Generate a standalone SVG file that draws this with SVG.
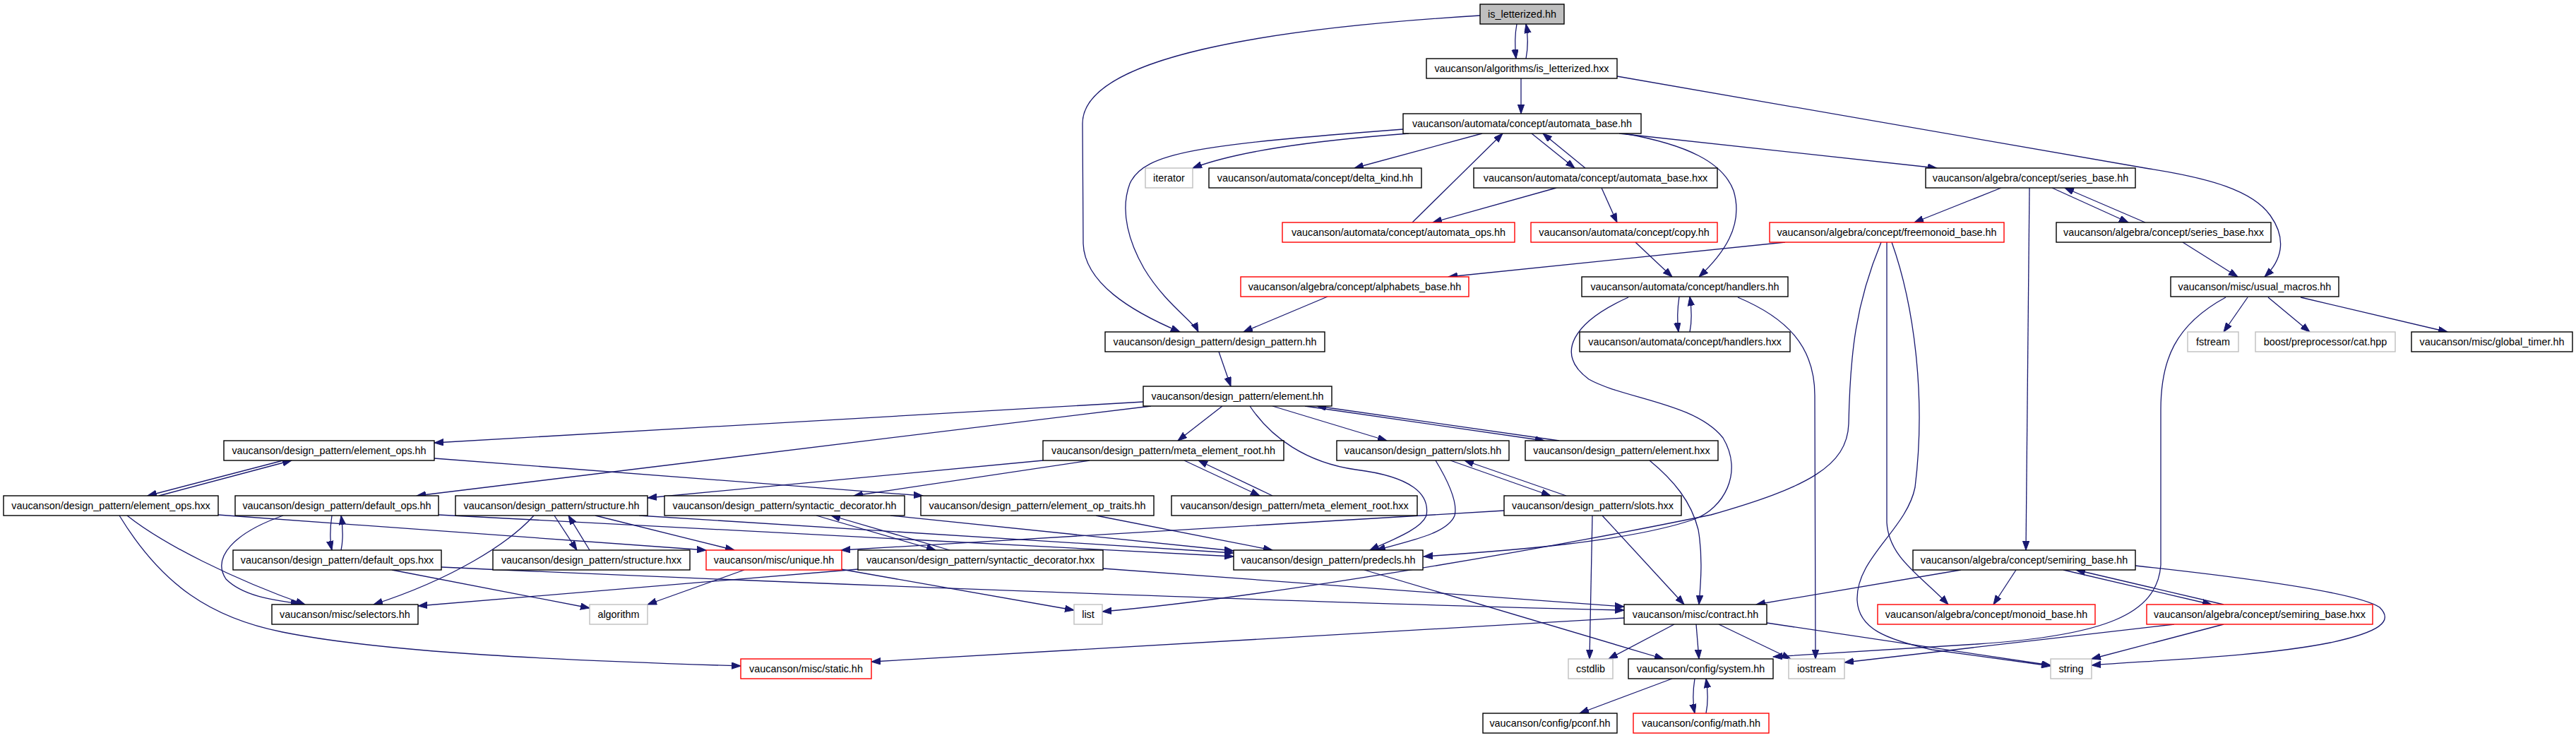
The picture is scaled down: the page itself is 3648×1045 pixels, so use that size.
<svg xmlns="http://www.w3.org/2000/svg" width="3648" height="1045" viewBox="0 0 3648 1045">
<style>
rect{stroke-width:1.4}
.n rect{fill:#fff;stroke:#000}
.r rect{fill:#fff;stroke:#ff0000}
.g rect{fill:#fff;stroke:#bfbfbf}
.root rect{fill:#bfbfbf;stroke:#000}
text{font-family:"Liberation Sans",Arial,Helvetica,sans-serif;font-size:14.4px;fill:#000;text-anchor:middle}
.e path{fill:none;stroke:#191970;stroke-width:1.3;marker-end:url(#ah)}
</style>
<defs>
<marker id="ah" markerUnits="userSpaceOnUse" markerWidth="14" markerHeight="10" refX="13" refY="4.7" orient="auto">
<path d="M0,0 L13,4.7 L0,9.4 z" fill="#191970" stroke="#191970" stroke-width="1"/>
</marker>
</defs>
<rect width="3648" height="1045" fill="#fff"/>
<g id="edges" class="e">
<path d="M2148,34 C2145,50 2145,65 2147,83"/>
<path d="M2161,83 C2164,67 2164,50 2161,34"/>
<path d="M2096,22 C1800,40 1533,80 1533,175 L1534,345 C1536,400 1600,440 1671,470"/>
<path d="M1987,183 C1700,205 1620,215 1600,260 C1585,300 1600,345 1620,380 C1650,430 1690,455 1697,470"/>
<path d="M2154,111 L2154,161"/>
<path d="M2290,108 L3038,238 C3130,252 3190,270 3215,305 C3240,340 3230,370 3207,392"/>
<path d="M1995,189 C1850,200 1750,215 1689,238"/>
<path d="M2099,189 L1918,238"/>
<path d="M2169,189 L2230,238"/>
<path d="M2245,238 L2185,189"/>
<path d="M2000,315 L2128,189"/>
<path d="M2293,189 L2743,238"/>
<path d="M2300,189 C2390,205 2440,230 2455,270 C2470,320 2440,360 2406,392"/>
<path d="M2204,266 L2029,315"/>
<path d="M2268,266 L2290,315"/>
<path d="M2834,266 L2711,315"/>
<path d="M2874,266 L2869,779"/>
<path d="M2906,266 L3014,315"/>
<path d="M3038,315 L2924,266"/>
<path d="M3091,343 L3169,392"/>
<path d="M2316,343 L2368,392"/>
<path d="M2528,343 L2051,392"/>
<path d="M2664,343 C2628,430 2620,500 2618,600 C2616,660 2560,690 2423,729 C2200,775 1800,845 1561,866"/>
<path d="M2672,343 L2672,740 C2675,790 2720,815 2759,856"/>
<path d="M2679,343 C2710,430 2728,560 2712,690 C2700,750 2628,790 2630,850 C2632,890 2670,905 2736,920 L2904,943"/>
<path d="M1880,420 L1761,470"/>
<path d="M2378,420 C2375,440 2375,455 2377,470"/>
<path d="M2393,470 C2396,455 2396,440 2393,420"/>
<path d="M2306,421 C2230,455 2200,500 2250,537 C2300,565 2400,570 2440,620 C2470,670 2440,720 2400,735 C2300,770 2100,782 2016,788"/>
<path d="M2461,421 C2530,450 2570,490 2570,560 L2571,933"/>
<path d="M3183,421 L3149,470"/>
<path d="M3212,421 L3271,470"/>
<path d="M3258,421 L3466,470"/>
<path d="M3152,421 C3080,460 3060,510 3060,580 L3060,800 C3055,870 2980,900 2800,912 L2511,930"/>
<path d="M1726,498 L1743,547"/>
<path d="M1619,569 L615,627"/>
<path d="M1630,575 L590,702"/>
<path d="M1731,575 L1668,624"/>
<path d="M1802,575 L1964,624"/>
<path d="M1848,575 L2187,624"/>
<path d="M2208,624 L1865,575"/>
<path d="M1770,575 C1800,620 1850,655 1920,665 C2000,675 2025,700 2020,730 C2012,750 1970,765 1940,779"/>
<path d="M401,652 L209,702"/>
<path d="M225,702 L413,652"/>
<path d="M615,649 L1307,702"/>
<path d="M1477,652 L917,705"/>
<path d="M1543,652 L1209,702"/>
<path d="M1677,652 L1784,702"/>
<path d="M1802,702 L1697,652"/>
<path d="M2054,652 L2196,702"/>
<path d="M2218,702 L2074,652"/>
<path d="M2033,652 C2050,680 2065,710 2060,730 C2050,755 2000,765 1949,779"/>
<path d="M2336,652 C2370,680 2395,710 2405,750 C2412,790 2408,830 2406,856"/>
<path d="M180,730 C230,770 330,820 432,856"/>
<path d="M169,730 C230,830 300,875 400,895 C550,925 800,935 1049,943"/>
<path d="M309,729 L1000,779"/>
<path d="M401,730 C330,755 300,790 320,820 C345,845 390,850 425,855"/>
<path d="M470,730 C467,750 467,765 470,779"/>
<path d="M483,779 C486,765 486,750 483,730"/>
<path d="M621,729 L1747,788"/>
<path d="M905,730 L1747,783"/>
<path d="M756,730 C720,770 640,820 529,856"/>
<path d="M843,730 L1040,779"/>
<path d="M785,730 L817,779"/>
<path d="M835,779 L805,730"/>
<path d="M1156,730 L1325,779"/>
<path d="M1345,779 L1177,730"/>
<path d="M1261,730 L1747,780"/>
<path d="M1552,730 L1802,779"/>
<path d="M2130,723 L1191,779"/>
<path d="M2255,730 L2251,933"/>
<path d="M2269,730 L2385,856"/>
<path d="M555,807 L835,861"/>
<path d="M625,803 C1100,825 1900,855 2300,864"/>
<path d="M1562,805 L2300,859"/>
<path d="M1215,806 L592,858"/>
<path d="M1054,807 L917,856"/>
<path d="M1191,806 L1521,864"/>
<path d="M1932,807 L2356,933"/>
<path d="M2777,807 L2487,856"/>
<path d="M2855,807 L2823,856"/>
<path d="M2922,807 L3132,856"/>
<path d="M3149,856 L2940,807"/>
<path d="M3024,801 C3200,820 3340,840 3370,860 C3390,880 3370,895 3300,910 C3200,930 3050,935 2962,942"/>
<path d="M3149,884 L2962,933"/>
<path d="M3079,884 L2612,938"/>
<path d="M2300,875 L1234,937"/>
<path d="M2371,884 L2278,933"/>
<path d="M2402,884 L2406,933"/>
<path d="M2434,884 L2536,933"/>
<path d="M2502,882 L2904,942"/>
<path d="M2368,961 L2237,1010"/>
<path d="M2400,961 C2397,980 2397,995 2400,1010"/>
<path d="M2416,1010 C2419,995 2419,980 2416,961"/>
</g>
<g id="n0" class="root"><rect x="2096" y="6" width="119" height="28"/><text x="2155.5" y="25">is_letterized.hh</text></g>
<g id="n1" class="n"><rect x="2020" y="83" width="270" height="28"/><text x="2155" y="102">vaucanson/algorithms/is_letterized.hxx</text></g>
<g id="n2" class="n"><rect x="1987" y="161" width="337" height="28"/><text x="2155.5" y="180">vaucanson/automata/concept/automata_base.hh</text></g>
<g id="n3" class="g"><rect x="1622" y="238" width="67" height="28"/><text x="1655.5" y="257">iterator</text></g>
<g id="n4" class="n"><rect x="1712" y="238" width="301" height="28"/><text x="1862.5" y="257">vaucanson/automata/concept/delta_kind.hh</text></g>
<g id="n5" class="n"><rect x="2087" y="238" width="345" height="28"/><text x="2259.5" y="257">vaucanson/automata/concept/automata_base.hxx</text></g>
<g id="n6" class="n"><rect x="2727" y="238" width="297" height="28"/><text x="2875.5" y="257">vaucanson/algebra/concept/series_base.hh</text></g>
<g id="n7" class="r"><rect x="1816" y="315" width="329" height="28"/><text x="1980.5" y="334">vaucanson/automata/concept/automata_ops.hh</text></g>
<g id="n8" class="r"><rect x="2168" y="315" width="264" height="28"/><text x="2300" y="334">vaucanson/automata/concept/copy.hh</text></g>
<g id="n9" class="r"><rect x="2506" y="315" width="332" height="28"/><text x="2672" y="334">vaucanson/algebra/concept/freemonoid_base.hh</text></g>
<g id="n10" class="n"><rect x="2912" y="315" width="304" height="28"/><text x="3064" y="334">vaucanson/algebra/concept/series_base.hxx</text></g>
<g id="n11" class="r"><rect x="1757" y="392" width="323" height="28"/><text x="1918.5" y="411">vaucanson/algebra/concept/alphabets_base.hh</text></g>
<g id="n12" class="n"><rect x="2240" y="392" width="292" height="28"/><text x="2386" y="411">vaucanson/automata/concept/handlers.hh</text></g>
<g id="n13" class="n"><rect x="3074" y="392" width="238" height="28"/><text x="3193" y="411">vaucanson/misc/usual_macros.hh</text></g>
<g id="n14" class="n"><rect x="1565" y="470" width="311" height="28"/><text x="1720.5" y="489">vaucanson/design_pattern/design_pattern.hh</text></g>
<g id="n15" class="n"><rect x="2237" y="470" width="298" height="28"/><text x="2386" y="489">vaucanson/automata/concept/handlers.hxx</text></g>
<g id="n16" class="g"><rect x="3098" y="470" width="72" height="28"/><text x="3134" y="489">fstream</text></g>
<g id="n17" class="g"><rect x="3194" y="470" width="198" height="28"/><text x="3293" y="489">boost/preprocessor/cat.hpp</text></g>
<g id="n18" class="n"><rect x="3415" y="470" width="228" height="28"/><text x="3529" y="489">vaucanson/misc/global_timer.hh</text></g>
<g id="n19" class="n"><rect x="1619" y="547" width="267" height="28"/><text x="1752.5" y="566">vaucanson/design_pattern/element.hh</text></g>
<g id="n20" class="n"><rect x="317" y="624" width="298" height="28"/><text x="466" y="643">vaucanson/design_pattern/element_ops.hh</text></g>
<g id="n21" class="n"><rect x="1477" y="624" width="341" height="28"/><text x="1647.5" y="643">vaucanson/design_pattern/meta_element_root.hh</text></g>
<g id="n22" class="n"><rect x="1893" y="624" width="244" height="28"/><text x="2015" y="643">vaucanson/design_pattern/slots.hh</text></g>
<g id="n23" class="n"><rect x="2160" y="624" width="273" height="28"/><text x="2296.5" y="643">vaucanson/design_pattern/element.hxx</text></g>
<g id="n24" class="n"><rect x="5" y="702" width="304" height="28"/><text x="157" y="721">vaucanson/design_pattern/element_ops.hxx</text></g>
<g id="n25" class="n"><rect x="333" y="702" width="288" height="28"/><text x="477" y="721">vaucanson/design_pattern/default_ops.hh</text></g>
<g id="n26" class="n"><rect x="645" y="702" width="272" height="28"/><text x="781" y="721">vaucanson/design_pattern/structure.hh</text></g>
<g id="n27" class="n"><rect x="941" y="702" width="340" height="28"/><text x="1111" y="721">vaucanson/design_pattern/syntactic_decorator.hh</text></g>
<g id="n28" class="n"><rect x="1304" y="702" width="330" height="28"/><text x="1469" y="721">vaucanson/design_pattern/element_op_traits.hh</text></g>
<g id="n29" class="n"><rect x="1659" y="702" width="348" height="28"/><text x="1833" y="721">vaucanson/design_pattern/meta_element_root.hxx</text></g>
<g id="n30" class="n"><rect x="2130" y="702" width="251" height="28"/><text x="2255.5" y="721">vaucanson/design_pattern/slots.hxx</text></g>
<g id="n31" class="n"><rect x="330" y="779" width="295" height="28"/><text x="477.5" y="798">vaucanson/design_pattern/default_ops.hxx</text></g>
<g id="n32" class="n"><rect x="698" y="779" width="279" height="28"/><text x="837.5" y="798">vaucanson/design_pattern/structure.hxx</text></g>
<g id="n33" class="r"><rect x="1000" y="779" width="192" height="28"/><text x="1096" y="798">vaucanson/misc/unique.hh</text></g>
<g id="n34" class="n"><rect x="1215" y="779" width="347" height="28"/><text x="1388.5" y="798">vaucanson/design_pattern/syntactic_decorator.hxx</text></g>
<g id="n35" class="n"><rect x="1747" y="779" width="268" height="28"/><text x="1881" y="798">vaucanson/design_pattern/predecls.hh</text></g>
<g id="n36" class="n"><rect x="2709" y="779" width="315" height="28"/><text x="2866.5" y="798">vaucanson/algebra/concept/semiring_base.hh</text></g>
<g id="n37" class="n"><rect x="385" y="856" width="207" height="28"/><text x="488.5" y="875">vaucanson/misc/selectors.hh</text></g>
<g id="n38" class="g"><rect x="835" y="856" width="82" height="28"/><text x="876" y="875">algorithm</text></g>
<g id="n39" class="g"><rect x="1521" y="856" width="40" height="28"/><text x="1541" y="875">list</text></g>
<g id="n40" class="n"><rect x="2300" y="856" width="202" height="28"/><text x="2401" y="875">vaucanson/misc/contract.hh</text></g>
<g id="n41" class="r"><rect x="2659" y="856" width="308" height="28"/><text x="2813" y="875">vaucanson/algebra/concept/monoid_base.hh</text></g>
<g id="n42" class="r"><rect x="3040" y="856" width="320" height="28"/><text x="3200" y="875">vaucanson/algebra/concept/semiring_base.hxx</text></g>
<g id="n43" class="r"><rect x="1049" y="933" width="185" height="28"/><text x="1141.5" y="952">vaucanson/misc/static.hh</text></g>
<g id="n44" class="g"><rect x="2221" y="933" width="63" height="28"/><text x="2252.5" y="952">cstdlib</text></g>
<g id="n45" class="n"><rect x="2306" y="933" width="205" height="28"/><text x="2408.5" y="952">vaucanson/config/system.hh</text></g>
<g id="n46" class="g"><rect x="2533" y="933" width="79" height="28"/><text x="2572.5" y="952">iostream</text></g>
<g id="n47" class="g"><rect x="2904" y="933" width="58" height="28"/><text x="2933" y="952">string</text></g>
<g id="n48" class="n"><rect x="2100" y="1010" width="190" height="28"/><text x="2195" y="1029">vaucanson/config/pconf.hh</text></g>
<g id="n49" class="r"><rect x="2313" y="1010" width="192" height="28"/><text x="2409" y="1029">vaucanson/config/math.hh</text></g>
</svg>
